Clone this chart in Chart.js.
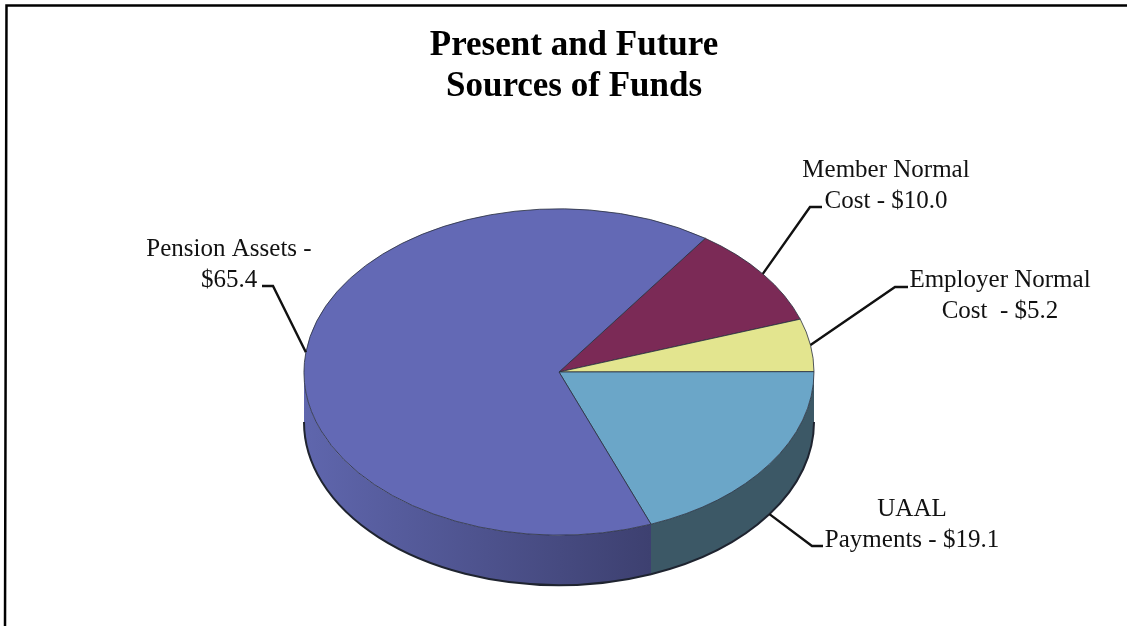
<!DOCTYPE html>
<html>
<head>
<meta charset="utf-8">
<title>Present and Future Sources of Funds</title>
<script src="https://cdn.jsdelivr.net/npm/chart.js@4"></script>
<style>
  html, body { margin: 0; padding: 0; background: #fff; overflow: hidden; }
  #wrap { position: absolute; left: 0; top: 0; width: 1127px; height: 626px; }
</style>
</head>
<body>
<div id="wrap"><canvas id="myPie"></canvas></div>
<script>
var titleLines = ["Present and Future", "Sources of Funds"];
var sliceNames = ["Member Normal Cost", "Employer Normal Cost", "UAAL Payments", "Pension Assets"];
var sliceValues = [10.0, 5.2, 19.1, 65.4];
var sliceColors = ["#7b2a56", "#e3e58f", "#6ba6c8", "#6369b5"];
var wallColors = [["#4d1a36", "#4d1a36"], ["#8e8f58", "#8e8f58"], ["#3c5866", "#3c5866"], ["#5f66ad", "#3d4070"]];
var calloutText = [
  ["Member Normal", "Cost - $10.0"],
  ["Employer Normal", "Cost  - $5.2"],
  ["UAAL", "Payments - $19.1"],
  ["Pension Assets -", "$65.4"]
];

// where each callout's text and elbow sit on the page
var calloutLayout = [
  { textX: 886, textY: 177, elbowX: 810, elbowY: 207, endX: 822, wall: false },
  { textX: 1000, textY: 287, elbowX: 895, elbowY: 287, endX: 908, wall: false },
  { textX: 912, textY: 516, elbowX: 812, elbowY: 546, endX: 823, wall: true },
  { textX: 229, textY: 256, elbowX: 273, elbowY: 286, endX: 262, wall: false }
];

var squash = 0.64;   // flattening of the pie disc
var depth = 50;      // height of the side wall in px

// canvas angles of the visible (front) part of a slice
function frontPart(start, end) {
  var parts = [];
  for (var k = 0; k < 2; k++) {
    var s = Math.max(start, k * 2 * Math.PI);
    var e = Math.min(end, Math.PI + k * 2 * Math.PI);
    if (e > s) parts.push([s, e]);
  }
  return parts;
}

var tiltPlugin = {
  id: "tilt",
  beforeDatasetsDraw: function (chart) {
    var ctx = chart.ctx;
    var arcs = chart.getDatasetMeta(0).data;
    var cx = arcs[0].x, cy = arcs[0].y, r = arcs[0].outerRadius;
    var ry = r * squash;

    // side wall first, the disc goes on top of it
    arcs.forEach(function (arc, i) {
      var start = (arc.startAngle + 4 * Math.PI) % (2 * Math.PI);
      var end = start + (arc.endAngle - arc.startAngle);
      frontPart(start, end).forEach(function (p) {
        var x0 = cx + r * Math.cos(p[0]), x1 = cx + r * Math.cos(p[1]);
        var grad = ctx.createLinearGradient(Math.min(x0, x1), 0, Math.max(x0, x1), 0);
        grad.addColorStop(0, wallColors[i][0]);
        grad.addColorStop(1, wallColors[i][1]);
        ctx.beginPath();
        ctx.ellipse(cx, cy, r, ry, 0, p[0], p[1], false);
        ctx.ellipse(cx, cy + depth, r, ry, 0, p[1], p[0], true);
        ctx.closePath();
        ctx.fillStyle = grad;
        ctx.fill();
        // dark rim along the bottom edge
        ctx.beginPath();
        ctx.ellipse(cx, cy + depth, r, ry, 0, p[1], p[0], true);
        ctx.strokeStyle = "#1f2430";
        ctx.lineWidth = 2;
        ctx.stroke();
      });
    });

    ctx.save();
    ctx.translate(cx, cy);
    ctx.scale(1, squash);
    ctx.translate(-cx, -cy);
  },
  afterDatasetsDraw: function (chart) {
    var ctx = chart.ctx;
    ctx.restore();

    var arcs = chart.getDatasetMeta(0).data;
    ctx.save();
    ctx.strokeStyle = "#111";
    ctx.fillStyle = "#111";
    ctx.lineWidth = 2.4;
    ctx.font = "25px 'Liberation Serif'";
    ctx.textAlign = "center";
    ctx.textBaseline = "alphabetic";
    arcs.forEach(function (arc, i) {
      var c = calloutLayout[i];
      var mid = (arc.startAngle + arc.endAngle) / 2;
      var ax = arc.x + arc.outerRadius * Math.cos(mid);
      var ay = arc.y + arc.outerRadius * squash * Math.sin(mid) + (c.wall ? depth : 0);
      ctx.beginPath();
      ctx.moveTo(ax, ay);
      ctx.lineTo(c.elbowX, c.elbowY);
      ctx.lineTo(c.endX, c.elbowY);
      ctx.stroke();
      calloutText[i].forEach(function (line, n) {
        ctx.fillText(line, c.textX, c.textY + n * 31);
      });
    });

    // heading, sits right of the pie's centre
    ctx.fillStyle = "#000";
    ctx.font = "bold 35px 'Liberation Serif'";
    titleLines.forEach(function (line, n) {
      ctx.fillText(line, 574, 55 + n * 41);
    });
    ctx.restore();

    // page rule along the top and left only
    ctx.save();
    ctx.strokeStyle = "#000";
    ctx.lineWidth = 2.5;
    ctx.beginPath();
    ctx.moveTo(1127, 5.5);
    ctx.lineTo(6.5, 5.5);
    ctx.lineTo(5, 626);
    ctx.stroke();
    ctx.restore();
  }
};

var myPie = new Chart(document.getElementById("myPie"), {
  type: "pie",
  data: {
    labels: sliceNames,
    datasets: [{
      data: sliceValues,
      backgroundColor: sliceColors,
      borderColor: "#2b3140",
      borderWidth: 1,
      borderAlign: "center",
      radius: 255,
      rotation: 35
    }]
  },
  options: {
    responsive: true,
    maintainAspectRatio: false,
    animation: false,
    layout: { padding: { top: 118, right: 9, left: 0, bottom: 0 } },
    plugins: {
      legend: { display: false },
      tooltip: { enabled: false },
      title: { display: false }
    }
  },
  plugins: [tiltPlugin]
});
</script>
</body>
</html>
